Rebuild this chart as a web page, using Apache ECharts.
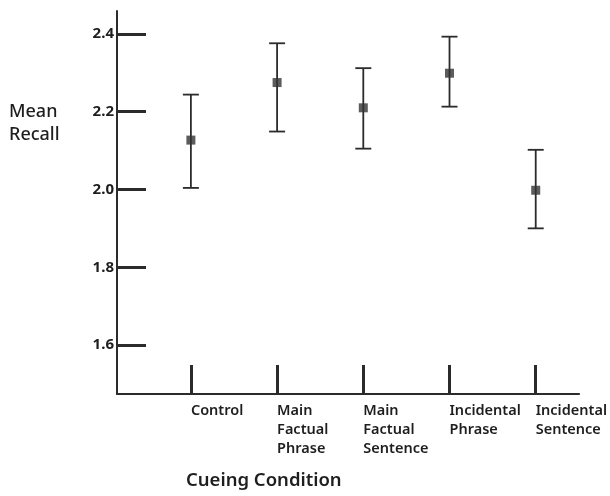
<!DOCTYPE html>
<html><head><meta charset="utf-8">
<script src="https://cdn.jsdelivr.net/npm/echarts@6/dist/echarts.min.js"></script>
<style>html,body{margin:0;padding:0;background:#fff}#c{width:610px;height:496px}</style>
</head><body><div id="c"></div>
<script>
const categories = ["Control", "Main\nFactual\nPhrase", "Main\nFactual\nSentence", "Incidental\nPhrase", "Incidental\nSentence"];
const means = [2.127, 2.275, 2.210, 2.299, 1.998];
const upper = [2.244, 2.376, 2.312, 2.393, 2.102];
const lower = [2.004, 2.149, 2.105, 2.213, 1.900];
const yTicks = [1.6, 1.8, 2.0, 2.2, 2.4];
const xPositions = [1, 2, 3, 4, 5];

const ink = '#2b2b2b';
const font = '"Noto Sans", "Open Sans", "DejaVu Sans", sans-serif';

const chart = echarts.init(document.getElementById('c'), null, {renderer: 'canvas'});
chart.setOption({
  animation: false,
  backgroundColor: '#fff',
  grid: {left: 117, top: 11, right: 24, bottom: 102, containLabel: false},
  xAxis: {
    type: 'value', min: 0.143, max: 5.503,
    axisLine: {show: true, lineStyle: {color: ink, width: 2}},
    splitLine: {show: false},
    axisTick: {show: true, inside: true, length: 29, customValues: xPositions, lineStyle: {color: ink, width: 3}},
    axisLabel: {
      show: true, customValues: xPositions, align: 'left', verticalAlign: 'top', margin: 7,
      formatter: v => categories[Math.round(v) - 1],
      color: '#1e1e1e', fontFamily: font, fontWeight: 600, fontSize: 14.5, lineHeight: 19
    }
  },
  yAxis: {
    type: 'value', min: 1.474, max: 2.459,
    axisLine: {show: true, lineStyle: {color: ink, width: 2}},
    splitLine: {show: false},
    axisTick: {show: true, inside: true, length: 29, customValues: yTicks, lineStyle: {color: ink, width: 3}},
    axisLabel: {
      show: true, customValues: yTicks, margin: 3,
      formatter: v => v.toFixed(1),
      color: '#1e1e1e', fontFamily: font, fontWeight: 'bold', fontSize: 15
    }
  },
  graphic: [
    {type: 'text', left: 9, top: 100, style: {text: 'Mean\nRecall', font: '500 18px ' + font, fill: '#1e1e1e', lineHeight: 23}},
    {type: 'text', left: 186, top: 471, style: {text: 'Cueing Condition', font: '600 18.5px ' + font, fill: '#1e1e1e'}}
  ],
  series: [
    {
      type: 'custom',
      data: xPositions.map((x, i) => [x, lower[i], upper[i]]),
      renderItem: (params, api) => {
        const lo = api.coord([api.value(0), api.value(1)]);
        const hi = api.coord([api.value(0), api.value(2)]);
        const hw = 8;
        const st = {stroke: ink, lineWidth: 1.8};
        return {type: 'group', children: [
          {type: 'line', shape: {x1: hi[0], y1: hi[1], x2: lo[0], y2: lo[1]}, style: st},
          {type: 'line', shape: {x1: hi[0] - hw, y1: hi[1], x2: hi[0] + hw, y2: hi[1]}, style: st},
          {type: 'line', shape: {x1: lo[0] - hw, y1: lo[1], x2: lo[0] + hw, y2: lo[1]}, style: st}
        ]};
      },
      z: 2
    },
    {
      type: 'scatter',
      data: xPositions.map((x, i) => [x, means[i]]),
      symbol: 'rect', symbolSize: 9,
      itemStyle: {color: '#333'},
      z: 3
    }
  ]
});
</script></body></html>
